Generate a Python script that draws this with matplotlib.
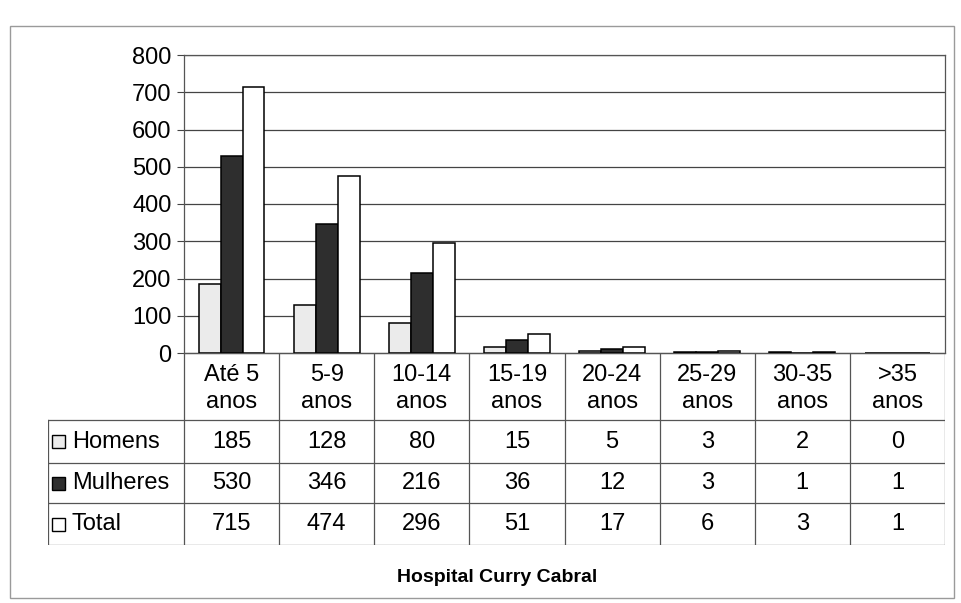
import numpy as np
import matplotlib
matplotlib.use('Agg')
import matplotlib.pyplot as plt
from matplotlib.patches import Rectangle

categories = ['Até 5\nanos', '5-9\nanos', '10-14\nanos', '15-19\nanos',
              '20-24\nanos', '25-29\nanos', '30-35\nanos', '>35\nanos']
homens = [185, 128, 80, 15, 5, 3, 2, 0]
mulheres = [530, 346, 216, 36, 12, 3, 1, 1]
total = [715, 474, 296, 51, 17, 6, 3, 1]
series_names = ['Homens', 'Mulheres', 'Total']
y_ticks = [0, 100, 200, 300, 400, 500, 600, 700, 800]
title = 'Hospital Curry Cabral'

plt.rcParams['font.family'] = ['Liberation Sans', 'DejaVu Sans']
fs = 17

W, H = 962, 603
fig = plt.figure(figsize=(W / 100, H / 100), dpi=100)

# outer frame of the scanned chart
fig.patches.append(Rectangle((10 / W, 1 - 598 / H), 944 / W, 572 / H,
                             transform=fig.transFigure, fill=False,
                             edgecolor='#9a9a9a', linewidth=1.0))

px_left, px_right, px_top, px_zero = 184, 945, 55, 353
ax = fig.add_axes([px_left / W, 1 - px_zero / H,
                   (px_right - px_left) / W, (px_zero - px_top) / H])

colors = ['#ebebeb', '#2e2e2e', '#ffffff']
data = [homens, mulheres, total]
x = np.arange(len(categories))
bw = 0.23
for i, vals in enumerate(data):
    ax.bar(x + (i - 1) * bw, vals, bw, color=colors[i], edgecolor='black',
           linewidth=1.1, zorder=3)

ax.set_xlim(-0.5, len(categories) - 0.5)
ax.set_ylim(0, 800)
ax.set_yticks(y_ticks)
ax.set_xticks([])
ax.tick_params(axis='y', labelsize=fs, length=5, color='#444444', pad=4)
ax.yaxis.grid(True, color='#444444', linewidth=0.9, zorder=0)
for s in ax.spines.values():
    s.set_color('#555555')
    s.set_linewidth(0.9)

# data table below the plot
legend_w = (px_left - 48) / ((px_right - px_left) / len(categories))
tbl_bottom = 545
ax_t = fig.add_axes([48 / W, 1 - tbl_bottom / H,
                     (px_right - 48) / W, (tbl_bottom - px_zero) / H])
x0 = -0.5 - legend_w
x1 = len(categories) - 0.5
ax_t.set_xlim(x0, x1)
rows_y = [0, 67, 110, 150, 192]
ax_t.set_ylim(rows_y[-1], 0)
ax_t.axis('off')

lc = '#555555'
ax_t.plot([-0.5, x1], [rows_y[0]] * 2, color=lc, lw=0.9)
for yy in rows_y[1:]:
    ax_t.plot([x0, x1], [yy, yy], color=lc, lw=0.9)
for k in range(len(categories) + 1):
    ax_t.plot([k - 0.5] * 2, [rows_y[0], rows_y[-1]], color=lc, lw=0.9)
ax_t.plot([x0, x0], [rows_y[1], rows_y[-1]], color=lc, lw=0.9)

for j, cat in enumerate(categories):
    ax_t.text(j, (rows_y[0] + rows_y[1]) / 2 + 2, cat, ha='center',
              va='center', fontsize=fs, linespacing=1.25)

for i, vals in enumerate(data):
    yc = (rows_y[i + 1] + rows_y[i + 2]) / 2
    for j, v in enumerate(vals):
        ax_t.text(j, yc, str(v), ha='center', va='center', fontsize=fs)
    ax_t.add_patch(Rectangle((x0 + 0.04, yc - 6.5), 0.14, 13, facecolor=colors[i],
                             edgecolor='black', linewidth=1.0))
    ax_t.text(x0 + 0.25, yc, series_names[i], ha='left', va='center',
              fontsize=fs)

fig.text(497 / W, 1 - 577 / H, title, ha='center', va='center',
         fontsize=14, fontweight='bold')

fig.savefig('out.png', dpi=100)
